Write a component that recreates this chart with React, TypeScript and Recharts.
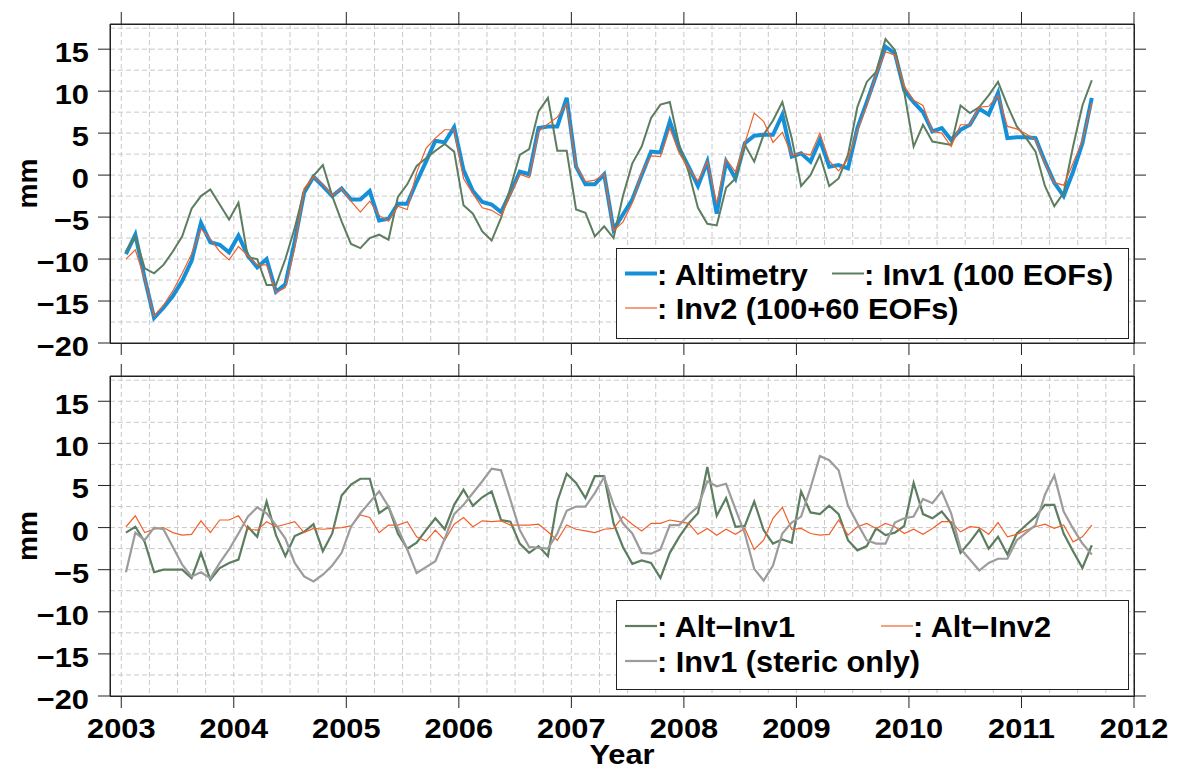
import React from "react";
import { LineChart, Line, XAxis, YAxis, CartesianGrid } from "recharts";

// ---------- data (monthly, Jan 2003 .. Aug 2011) ----------
const FIRST_YEAR = 2003;
const N_MONTHS = 104;
const months = Array.from({ length: N_MONTHS }, (_, i) => FIRST_YEAR + (i + 0.5) / 12);

const altimetry = [
  -9.4, -7.1, -12.3, -17.0, -15.8, -14.4, -12.6, -10.2, -5.7, -8.0, -8.3, -9.2,
  -7.2, -9.6, -11.0, -10.0, -13.9, -13.0, -7.9, -2.1, -0.2, -1.3, -2.5, -1.6,
  -2.9, -2.9, -1.9, -5.4, -5.2, -3.4, -3.4, -0.8, 1.6, 4.1, 3.9, 5.7,
  0.6, -1.9, -3.2, -3.5, -4.4, -2.1, 0.4, 0.1, 5.6, 5.8, 5.8, 9.2,
  1.0, -1.1, -1.1, 0.1, -6.5, -4.7, -2.9, 0.0, 2.8, 2.7, 6.4, 3.2,
  1.0, -1.3, 1.6, -4.6, 1.6, -0.4, 3.8, 4.7, 4.8, 4.8, 7.2, 2.2,
  2.6, 1.6, 4.2, 1.0, 1.2, 0.8, 5.6, 8.7, 11.9, 15.3, 14.5, 10.1,
  8.7, 7.5, 5.2, 5.6, 4.2, 5.4, 6.0, 7.9, 7.2, 9.8, 4.4, 4.5,
  4.5, 4.4, 1.6, -0.9, -2.5, 0.4, 3.8, 9.2,
];

const inv1 = [
  -9.1, -7.3, -11.1, -11.7, -10.7, -9.1, -7.3, -4.0, -2.5, -1.7, -3.5, -5.3,
  -3.3, -9.8, -10.0, -13.1, -13.1, -10.0, -6.3, -1.9, -0.1, 1.2, -2.5, -5.5,
  -8.2, -8.7, -7.5, -7.1, -7.7, -2.6, -1.1, 1.1, 2.0, 2.9, 3.7, 2.8,
  -3.6, -4.6, -6.7, -7.8, -5.1, -1.5, 2.4, 3.1, 7.6, 9.2, 2.9, 2.9,
  -4.1, -4.5, -7.3, -6.1, -7.5, -2.5, 1.4, 3.4, 6.8, 8.4, 8.7, 3.6,
  0.4, -3.9, -5.8, -6.0, -1.5, -0.4, 3.6, 1.6, 4.8, 6.5, 8.7, 4.4,
  -1.3, 0.0, 2.4, -1.3, -0.4, 2.4, 8.1, 11.1, 12.3, 16.2, 14.9, 9.9,
  3.4, 6.0, 4.0, 3.8, 3.6, 8.3, 7.4, 8.1, 9.5, 11.1, 8.3, 5.8,
  4.4, 2.8, -1.3, -3.7, -2.1, 3.4, 8.3, 11.3,
];

const inv2 = [
  -10.0, -8.9, -12.4, -16.8, -15.5, -13.8, -11.7, -9.4, -6.4, -7.6, -9.1, -10.1,
  -8.5, -9.6, -10.7, -10.7, -14.0, -13.4, -8.6, -1.6, -0.2, -1.1, -2.4, -1.6,
  -3.1, -4.4, -3.1, -4.8, -5.5, -3.7, -4.1, 0.3, 3.2, 4.4, 5.4, 5.4,
  -0.4, -2.2, -3.9, -4.2, -4.9, -2.3, 0.1, -0.3, 5.2, 6.1, 6.9, 8.5,
  1.1, -0.8, -0.6, 0.1, -6.6, -5.6, -3.3, 0.3, 2.3, 2.2, 5.6, 2.6,
  0.8, -0.7, 1.6, -3.4, 1.9, 0.4, 3.8, 7.4, 6.4, 3.9, 5.1, 2.4,
  2.6, 2.4, 5.0, 1.7, 0.5, 1.9, 5.3, 8.3, 12.0, 14.7, 14.3, 10.6,
  8.9, 8.3, 5.2, 5.0, 3.4, 6.0, 6.0, 8.1, 8.2, 9.5, 5.8, 5.5,
  4.9, 4.2, 1.4, -0.9, -1.2, 1.4, 4.1, 8.7,
];

const altMinusInv1 = [
  -0.6, 0.1, -1.7, -5.3, -5.0, -5.0, -5.0, -6.0, -3.0, -6.2, -4.8, -4.2,
  -3.8, 0.1, -1.1, 3.1, -0.9, -3.4, -1.0, -0.5, 0.4, -2.8, -0.7, 3.8,
  5.1, 5.8, 5.8, 1.7, 2.5, -0.7, -2.5, -1.8, -0.3, 1.1, -0.2, 2.7,
  4.5, 2.6, 3.6, 4.3, 0.9, 0.7, -1.9, -3.0, -2.2, -3.4, 3.1, 6.4,
  5.3, 3.5, 6.1, 6.1, 0.5, -2.3, -4.3, -3.9, -4.2, -6.0, -3.0, -1.1,
  0.5, 1.7, 7.2, 1.4, 3.5, 0.1, 0.2, 3.1, -0.3, -1.9, -1.4, -1.8,
  4.3, 1.8, 1.6, 2.6, 1.6, -1.5, -2.7, -2.2, -0.1, -0.9, -0.6, 0.2,
  5.3, 1.6, 1.1, 1.9, 0.5, -3.0, -1.7, -0.2, -2.5, -1.1, -3.2, -0.7,
  0.3, 1.3, 2.7, 2.7, -0.7, -2.8, -4.8, -2.1,
];

const altMinusInv2 = [
  0.1, 1.4, -0.6, -0.2, 0.0, -0.6, -0.9, -0.8, 0.8, -0.6, 0.9, 0.9,
  1.4, -0.2, -0.3, 0.7, 0.1, 0.4, 0.7, -0.6, -0.1, -0.2, -0.1, 0.0,
  0.2, 1.5, 1.2, -0.6, 0.3, 0.3, 0.7, -1.1, -1.6, -0.3, -1.5, 0.4,
  1.2, 0.1, 0.8, 0.7, 0.8, 0.3, 0.3, 0.3, 0.4, -0.5, -1.5, 0.3,
  -0.2, -0.4, -0.6, -0.2, -0.1, 1.3, 0.4, -0.4, 0.5, 0.5, 0.9, 0.7,
  0.5, -0.8, -0.1, -0.9, -0.2, -0.8, -0.1, -2.6, -1.5, 1.1, 2.4, -0.2,
  -0.1, -0.7, -0.9, -0.8, 0.9, -0.9, 0.1, 0.5, -0.1, 0.5, 0.1, -0.7,
  -0.2, -0.8, -0.1, 0.7, 0.7, -0.5, 0.1, 0.0, -0.8, 0.6, -1.1, -0.8,
  -0.3, 0.1, 0.4, -0.1, 0.3, -1.7, -1.1, 0.3,
];

const stericOnly = [
  -5.3, -0.6, -1.5, 0.0, -0.2, -2.3, -4.4, -5.8, -5.3, -6.0, -4.2, -2.6,
  -0.7, 1.3, 2.4, 1.7, 0.3, -1.3, -4.2, -5.8, -6.4, -5.6, -4.5, -3.0,
  0.1, 1.7, 3.0, 4.3, 2.5, -0.1, -2.6, -5.4, -4.7, -4.0, -1.3, 1.6,
  2.7, 4.1, 5.5, 7.0, 6.8, 3.3, -0.3, -2.3, -2.4, -2.5, -0.7, 2.0,
  2.5, 2.5, 4.1, 6.0, 2.7, 0.5, -0.7, -3.0, -3.1, -2.6, 0.3, 0.3,
  1.5, 2.5, 5.5, 4.9, 5.2, 2.2, -0.7, -4.9, -6.3, -4.5, -0.7, 0.6,
  1.3, 4.7, 8.5, 8.0, 6.8, 2.6, 0.5, -1.5, -1.9, -1.9, 0.6, 1.1,
  1.3, 3.4, 2.9, 4.3, 1.7, -2.5, -3.8, -5.1, -4.2, -3.7, -3.7, -1.5,
  -0.6, 0.3, 3.9, 6.2, 1.9, -0.1, -1.9, -3.2,
];

const yearTicks = [2003, 2004, 2005, 2006, 2007, 2008, 2009, 2010, 2011, 2012];
const mmTicks = [-20, -15, -10, -5, 0, 5, 10, 15];
const gridMm = [-17.5, -15, -12.5, -10, -7.5, -5, -2.5, 0, 2.5, 5, 7.5, 10, 12.5, 15, 17.5];
const gridYears = yearTicks.flatMap((y) => [y, y + 0.25, y + 0.5, y + 0.75]).filter((v) => v <= 2012);
const X_DOMAIN: [number, number] = [2002.9, 2012];
const Y_DOMAIN: [number, number] = [-20, 18];

const topData = months.map((t, i) => ({ t, alt: altimetry[i], inv1: inv1[i], inv2: inv2[i] }));
const bottomData = months.map((t, i) => ({
  t,
  d1: altMinusInv1[i],
  d2: altMinusInv2[i],
  st: stericOnly[i],
}));

// ---------- styling ----------
const FONT = "'Liberation Sans', Arial, Helvetica, sans-serif";
const AXIS = "#222";
const C_BLUE = "#1590d8";
const C_GREEN = "#5c7d5f";
const C_ORANGE = "#f0602a";
const C_GRAY = "#9c9c9c";
const MINUS = "\u2212";

const W = 1177;
const PLOT_LEFT = 110;
const PLOT_RIGHT = 1134;

function EmptyTick() {
  return <g />;
}

function YTick(props: any) {
  const { x, y, payload } = props;
  const v = payload.value as number;
  const s = v < 0 ? MINUS + Math.abs(v) : String(v);
  return (
    <g transform={`translate(${x},${y})`}>
      <text
        x={0}
        y={0}
        dy={13}
        textAnchor="end"
        transform="scale(1.1,1)"
        fontFamily={FONT}
        fontWeight={700}
        fontSize={28}
        fill="#000"
      >
        {s}
      </text>
    </g>
  );
}

function XTick(props: any) {
  const { x, y, payload } = props;
  return (
    <g transform={`translate(${x},${y})`}>
      <text
        x={0}
        y={0}
        dy={28}
        textAnchor="middle"
        transform="scale(1.1,1)"
        fontFamily={FONT}
        fontWeight={700}
        fontSize={28}
        fill="#000"
      >
        {String(payload.value)}
      </text>
    </g>
  );
}

function Panel({
  data,
  height,
  plotTop,
  xAxisHeight,
  showXLabels,
  children,
}: {
  data: any[];
  height: number;
  plotTop: number;
  xAxisHeight: number;
  showXLabels: boolean;
  children: React.ReactNode;
}) {
  const topAxisH = 12;
  const rightAxisW = 14;
  const line = { stroke: AXIS, strokeWidth: 1 };
  return (
    <LineChart
      width={W}
      height={height}
      data={data}
      margin={{
        top: plotTop - topAxisH,
        right: W - PLOT_RIGHT - rightAxisW,
        bottom: 0,
        left: PLOT_LEFT - 100,
      }}
    >
      <CartesianGrid
        stroke="#c9c9c9"
        strokeDasharray="5 3"
        horizontalValues={gridMm}
        verticalValues={gridYears}
        syncWithTicks={false}
      />
      <XAxis
        dataKey="t"
        type="number"
        domain={X_DOMAIN}
        ticks={yearTicks}
        allowDataOverflow
        height={xAxisHeight}
        tickSize={12}
        tickMargin={2}
        axisLine={line}
        tickLine={line}
        tick={showXLabels ? <XTick /> : <EmptyTick />}
        interval={0}
      />
      <XAxis
        xAxisId="top"
        orientation="top"
        dataKey="t"
        type="number"
        domain={X_DOMAIN}
        ticks={yearTicks}
        allowDataOverflow
        height={topAxisH}
        tickSize={12}
        axisLine={line}
        tickLine={line}
        tick={<EmptyTick />}
        interval={0}
      />
      <YAxis
        type="number"
        domain={Y_DOMAIN}
        ticks={mmTicks}
        allowDataOverflow
        width={100}
        tickSize={12}
        tickMargin={9}
        axisLine={line}
        tickLine={line}
        tick={<YTick />}
        interval={0}
      />
      <YAxis
        yAxisId="right"
        orientation="right"
        type="number"
        domain={Y_DOMAIN}
        ticks={mmTicks}
        allowDataOverflow
        width={rightAxisW}
        tickSize={12}
        axisLine={line}
        tickLine={line}
        tick={<EmptyTick />}
        interval={0}
      />
      {children}
    </LineChart>
  );
}

const textStyle = {
  fontFamily: FONT,
  fontWeight: 700,
  fontSize: 29,
  fill: "#000",
} as const;

function LegendEntry({
  x,
  y,
  color,
  width,
  label,
}: {
  x: number;
  y: number;
  color: string;
  width: number;
  label: string;
}) {
  return (
    <g>
      <line x1={x} x2={x + 32} y1={y} y2={y} stroke={color} strokeWidth={width} />
      <text x={0} y={0} transform={`translate(${x + 32},${y + 11}) scale(1.06,1)`} {...textStyle}>
        {label}
      </text>
    </g>
  );
}

function Overlay() {
  return (
    <svg
      width={W}
      height={769}
      style={{ position: "absolute", left: 0, top: 0, pointerEvents: "none" }}
    >
      {/* panel frames */}
      <rect x={PLOT_LEFT + 0.5} y={24.5} width={PLOT_RIGHT - PLOT_LEFT} height={319} fill="none" stroke={AXIS} strokeWidth={1} />
      <rect x={PLOT_LEFT + 0.5} y={376.5} width={PLOT_RIGHT - PLOT_LEFT} height={320} fill="none" stroke={AXIS} strokeWidth={1} />

      {/* top legend */}
      <rect x={616.5} y={248.5} width={512} height={90} fill="#fff" stroke={AXIS} strokeWidth={1} />
      <LegendEntry x={625} y={273.5} color={C_BLUE} width={4} label=": Altimetry" />
      <LegendEntry x={832} y={273.5} color={C_GREEN} width={2} label=": Inv1 (100 EOFs)" />
      <LegendEntry x={625} y={308} color={C_ORANGE} width={1.2} label=": Inv2 (100+60 EOFs)" />

      {/* bottom legend */}
      <rect x={616.5} y={600.5} width={512} height={89} fill="#fff" stroke={AXIS} strokeWidth={1} />
      <LegendEntry x={625} y={626} color={C_GREEN} width={2.2} label={": Alt" + MINUS + "Inv1"} />
      <LegendEntry x={881} y={626} color={C_ORANGE} width={1.2} label={": Alt" + MINUS + "Inv2"} />
      <LegendEntry x={625} y={661} color={C_GRAY} width={2.2} label=": Inv1 (steric only)" />

      {/* axis titles */}
      <text x={0} y={0} transform="translate(37,183.5) rotate(-90)" textAnchor="middle" {...textStyle} fontSize={28}>
        mm
      </text>
      <text x={0} y={0} transform="translate(37,536) rotate(-90)" textAnchor="middle" {...textStyle} fontSize={28}>
        mm
      </text>
      <text x={0} y={0} transform="translate(622,764) scale(1.1,1)" textAnchor="middle" {...textStyle} fontSize={28}>
        Year
      </text>
    </svg>
  );
}

export default function App() {
  return (
    <div style={{ position: "absolute", left: 0, top: 0, width: W, height: 769, background: "#fff" }}>
      <div style={{ position: "absolute", left: 0, top: 0 }}>
        <Panel data={topData} height={376} plotTop={24} xAxisHeight={33} showXLabels={false}>
          <Line dataKey="alt" type="linear" stroke={C_BLUE} strokeWidth={4} dot={false} activeDot={false} isAnimationActive={false} />
          <Line dataKey="inv1" type="linear" stroke={C_GREEN} strokeWidth={2} dot={false} activeDot={false} isAnimationActive={false} />
          <Line dataKey="inv2" type="linear" stroke={C_ORANGE} strokeWidth={1.2} dot={false} activeDot={false} isAnimationActive={false} />
        </Panel>
      </div>
      <div style={{ position: "absolute", left: 0, top: 360 }}>
        <Panel data={bottomData} height={409} plotTop={16} xAxisHeight={73} showXLabels={true}>
          <Line dataKey="d1" type="linear" stroke={C_GREEN} strokeWidth={2.2} dot={false} activeDot={false} isAnimationActive={false} />
          <Line dataKey="d2" type="linear" stroke={C_ORANGE} strokeWidth={1.2} dot={false} activeDot={false} isAnimationActive={false} />
          <Line dataKey="st" type="linear" stroke={C_GRAY} strokeWidth={2.2} dot={false} activeDot={false} isAnimationActive={false} />
        </Panel>
      </div>
      <Overlay />
    </div>
  );
}
